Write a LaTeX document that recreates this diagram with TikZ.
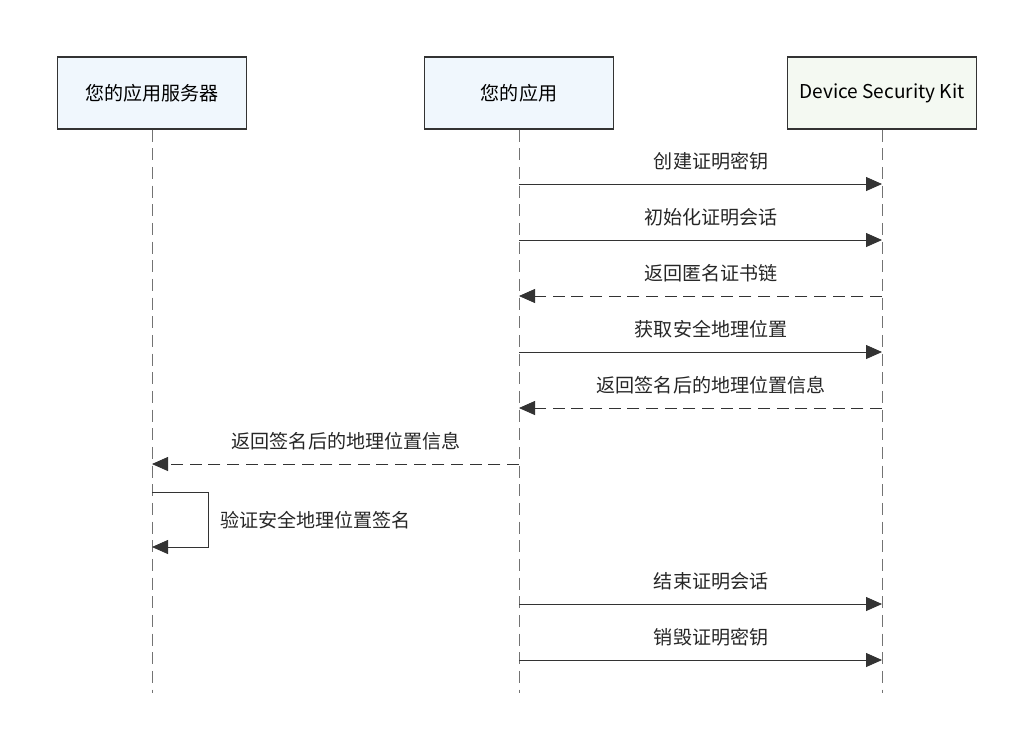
\documentclass[tikz,border=0pt]{standalone}
\usepackage{fontspec}
\setmainfont{Noto Sans CJK SC}
\usetikzlibrary{arrows.meta}
\definecolor{appblue}{HTML}{F0F7FD}
\definecolor{kitgreen}{HTML}{F4F9F2}
\definecolor{linegray}{HTML}{333333}
\begin{document}
\begin{tikzpicture}[x=0.75pt,y=-0.75pt,
  actor/.style={draw=linegray,line width=0.8pt,minimum width=142pt,minimum height=54pt,inner sep=0pt,font=\fontsize{14.3}{16}\selectfont},
  life/.style={draw=black!55,line width=0.6pt,dash pattern=on 9pt off 5pt},
  msg/.style={draw=linegray,line width=0.6pt,-{Triangle[length=12pt,width=10.5pt]}},
  reply/.style={msg,dash pattern=on 9pt off 5pt},
  lbl/.style={font=\fontsize{14.3}{16}\selectfont,text=black!85,inner sep=0pt}]
\useasboundingbox (0,0) rectangle (1035,751);
\node[actor,fill=appblue] (srv) at (152,93) {您的应用服务器};
\node[actor,fill=appblue] (app) at (519,93) {您的应用};
\node[actor,fill=kitgreen] (kit) at (882,93) {Device Security Kit};
% lifelines
\foreach \n in {srv,app,kit} {
  \coordinate (\n end) at (\n.south |- 0,693);
  \draw[life] (\n.south) -- (\n end);
}
% messages
\foreach \y/\a/\b/\s/\t in {184/app/kit/msg/创建证明密钥,240/app/kit/msg/初始化证明会话,296/kit/app/reply/返回匿名证书链,352/app/kit/msg/获取安全地理位置,408/kit/app/reply/返回签名后的地理位置信息,464/app/srv/reply/返回签名后的地理位置信息,604/app/kit/msg/结束证明会话,660/app/kit/msg/销毁证明密钥}
  \draw[\s] (\a.south |- 0,\y) -- (\b.south |- 0,\y) node[lbl,midway,yshift=17pt,xshift=8pt] {\t};
% self message
\coordinate (selfa) at (208,492);
\coordinate (selfb) at (208,547);
\draw[msg] (srv.south |- selfa) -- (selfa) -- (selfb) -- (srv.south |- selfb);
\node[lbl,anchor=west] (selflbl) at (220,520) {验证安全地理位置签名};
\end{tikzpicture}
\end{document}
